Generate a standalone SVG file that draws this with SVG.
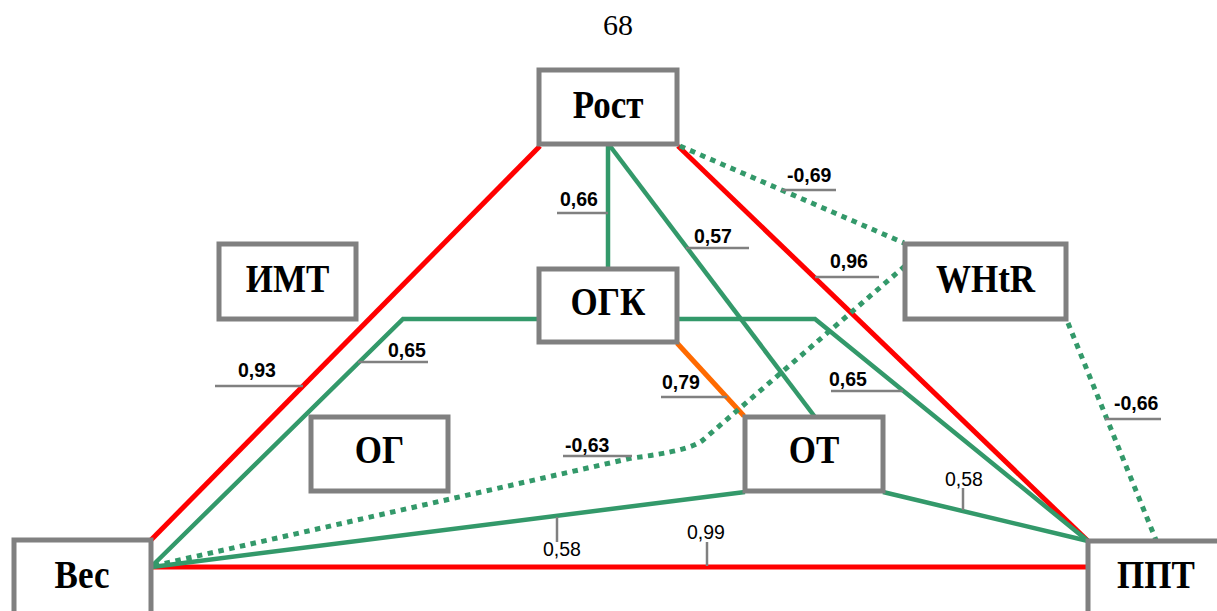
<svg xmlns="http://www.w3.org/2000/svg" width="1217" height="611" viewBox="0 0 1217 611">
<style>
.box{fill:#fff;stroke:#808080;stroke-width:5}
.nt{font-family:"Liberation Serif",serif;font-weight:bold;font-size:35px;text-anchor:middle;fill:#000}
.red{stroke:#ff0000;stroke-width:5;fill:none}
.grn{stroke:#33996a;stroke-width:4.5;fill:none}
.dot{stroke:#33996a;stroke-width:5;fill:none;stroke-dasharray:5.5 5.5}
.org{stroke:#ff6a00;stroke-width:5;fill:none}
.ld{stroke:#808080;stroke-width:2.5;fill:none}
.lb{font-family:"Liberation Sans",Arial,sans-serif;font-weight:bold;font-size:19.5px;fill:#000}
.lr{font-family:"Liberation Sans",Arial,sans-serif;font-size:19.5px;fill:#000}
</style>
<rect width="1217" height="611" fill="#fff"/>
<text x="618" y="35" font-family="Liberation Serif, serif" font-size="30" text-anchor="middle">68</text>
<g id="connectors">
<line class="red" x1="540" y1="146" x2="151" y2="540"/>
<line class="red" x1="678" y1="146" x2="1088" y2="541"/>
<line class="red" x1="151" y1="567" x2="1088" y2="567"/>
<line class="grn" x1="608" y1="146" x2="608" y2="268"/>
<line class="grn" x1="610" y1="146" x2="815" y2="417"/>
<polyline class="grn" points="539,319 403,319 152,566"/>
<polyline class="grn" points="677,319 815,319 1088,541"/>
<line class="grn" x1="745" y1="492" x2="152" y2="567"/>
<line class="grn" x1="883" y1="492" x2="1088" y2="541"/>
<line class="org" x1="677" y1="343" x2="744" y2="416"/>
<line class="dot" x1="680" y1="146" x2="904" y2="243"/>
<path class="dot" d="M905,266 L703,440 Q690,451 632,458 L153,566"/>
<line class="dot" x1="1068" y1="323" x2="1156" y2="540"/>
</g>
<g id="labels">
<line class="ld" x1="782" y1="190" x2="836" y2="190"/><text class="lb" x="787" y="182">-0,69</text>
<line class="ld" x1="557" y1="213" x2="608" y2="213"/><text class="lb" x="560" y="206">0,66</text>
<line class="ld" x1="686" y1="248" x2="749" y2="248"/><text class="lb" x="694" y="243">0,57</text>
<line class="ld" x1="815" y1="277" x2="879" y2="277"/><text class="lb" x="830" y="268">0,96</text>
<line class="ld" x1="215" y1="386" x2="303" y2="386"/><text class="lb" x="238" y="377">0,93</text>
<line class="ld" x1="358" y1="362" x2="428" y2="362"/><text class="lb" x="388" y="357">0,65</text>
<line class="ld" x1="661" y1="397" x2="727" y2="397"/><text class="lb" x="662" y="389">0,79</text>
<line class="ld" x1="831" y1="391" x2="903" y2="391"/><text class="lb" x="829" y="386">0,65</text>
<line class="ld" x1="563" y1="456" x2="632" y2="456"/><text class="lb" x="565" y="452">-0,63</text>
<line class="ld" x1="1105" y1="419" x2="1161" y2="419"/><text class="lb" x="1114" y="410">-0,66</text>
<line class="ld" x1="557" y1="517" x2="557" y2="542"/><text class="lr" x="543" y="556">0,58</text>
<line class="ld" x1="707" y1="542" x2="707" y2="566"/><text class="lr" x="687" y="539">0,99</text>
<line class="ld" x1="963" y1="488" x2="963" y2="510"/><text class="lr" x="945" y="486">0,58</text>
</g>
<g id="node-rost"><rect class="box" x="539" y="70" width="138" height="74"/><text class="nt" transform="translate(608,118) scale(1,1.15)">Рост</text></g>
<g id="node-imt"><rect class="box" x="219" y="244" width="137" height="75"/><text class="nt" transform="translate(287.5,292) scale(1,1.15)">ИМТ</text></g>
<g id="node-ogk"><rect class="box" x="539" y="269" width="138" height="73"/><text class="nt" transform="translate(608,315) scale(1,1.15)">ОГК</text></g>
<g id="node-whtr"><rect class="box" x="905" y="244" width="161" height="75"/><text class="nt" transform="translate(985.5,292) scale(1,1.15)">WHtR</text></g>
<g id="node-og"><rect class="box" x="311" y="417" width="137" height="74"/><text class="nt" transform="translate(379.5,463) scale(1,1.15)">ОГ</text></g>
<g id="node-ot"><rect class="box" x="745" y="417" width="138" height="74"/><text class="nt" transform="translate(814,463) scale(1,1.15)">ОТ</text></g>
<g id="node-ves"><rect class="box" x="14" y="540" width="137" height="80"/><text class="nt" transform="translate(82,588) scale(1,1.15)">Вес</text></g>
<g id="node-ppt"><rect class="box" x="1088" y="541" width="142" height="80"/><text class="nt" transform="translate(1156,588) scale(1,1.15)">ППТ</text></g>
</svg>
